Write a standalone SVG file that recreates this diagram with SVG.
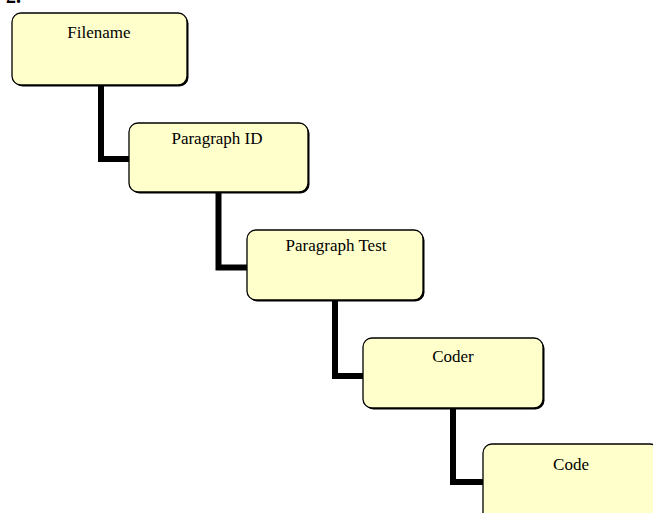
<svg xmlns="http://www.w3.org/2000/svg" width="653" height="513" viewBox="0 0 653 513">
<style>
.box{fill:#FFFFCC;stroke:#000;stroke-width:1.3}
.sh{fill:#000}
.lbl{font-family:"Liberation Serif","Times New Roman",serif;font-size:17px;text-anchor:middle;fill:#000}
.conn{fill:none;stroke:#000;stroke-width:6;stroke-linejoin:miter;stroke-linecap:butt}
</style>
<rect width="653" height="513" fill="#fff"/>
<text x="6" y="3" font-family="Liberation Serif, serif" font-size="20" font-weight="bold" fill="#000">2.</text>
<g id="connectors">
<path class="conn" d="M101 86 V159 H130"/>
<path class="conn" d="M218.5 192 V267.5 H248"/>
<path class="conn" d="M335 301 V376 H364"/>
<path class="conn" d="M453 409 V482 H484"/>
</g>
<g id="n1">
<rect class="sh" x="13.5" y="14.5" width="175" height="72" rx="9"/>
<rect class="box" x="12" y="13" width="175" height="72" rx="9"/>
<text class="lbl" x="99" y="38">Filename</text>
</g>
<g id="n2">
<rect class="sh" x="130.5" y="124.5" width="179" height="69" rx="9"/>
<rect class="box" x="129" y="123" width="179" height="69" rx="9"/>
<text class="lbl" x="217" y="144">Paragraph ID</text>
</g>
<g id="n3">
<rect class="sh" x="248.5" y="231.5" width="176" height="70" rx="9"/>
<rect class="box" x="247" y="230" width="176" height="70" rx="9"/>
<text class="lbl" x="336" y="251">Paragraph Test</text>
</g>
<g id="n4">
<rect class="sh" x="364.5" y="339.5" width="180" height="70" rx="9"/>
<rect class="box" x="363" y="338" width="180" height="70" rx="9"/>
<text class="lbl" x="453" y="362">Coder</text>
</g>
<g id="n5">
<rect class="sh" x="484.5" y="445.5" width="176" height="80" rx="9"/>
<rect class="box" x="483" y="444" width="176" height="80" rx="9"/>
<text class="lbl" x="571" y="470">Code</text>
</g>
</svg>
